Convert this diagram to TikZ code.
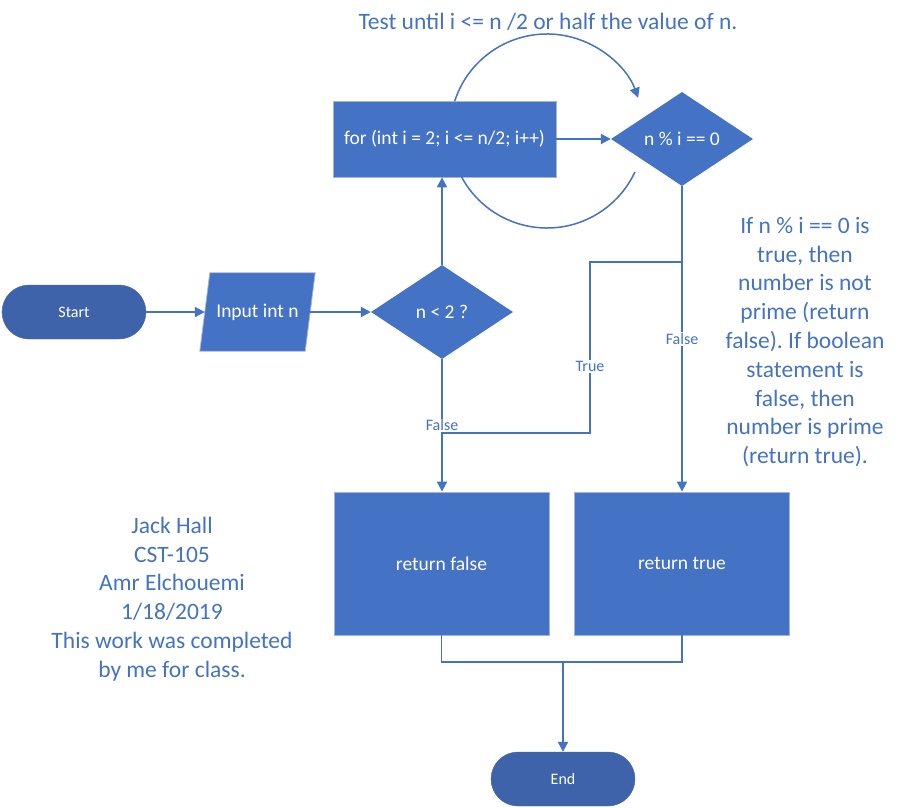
\documentclass[tikz,border=0pt]{standalone}
\usepackage{fontspec}
\setmainfont{Carlito}
\usepackage{tikz}
\usetikzlibrary{shapes.geometric, arrows.meta, positioning, calc}
\definecolor{fcblue}{HTML}{4472C4}
\definecolor{fcdark}{HTML}{3E63AB}
\definecolor{fcedge}{HTML}{A3B4D9}
\frenchspacing

\begin{document}
\begin{tikzpicture}[x=1pt, y=-1pt,
    process/.style={rectangle, draw=fcedge, line width=0.8pt, fill=fcblue, text=white, inner sep=0pt, font=\fontsize{19.5}{23}\selectfont},
    decision/.style={diamond, aspect=1.51, fill=fcblue, text=white, inner sep=0pt, minimum width=142pt, minimum height=94pt, font=\fontsize{19.5}{23}\selectfont},
    terminal/.style={rectangle, rounded corners=27pt, draw=fcdark, fill=fcdark, text=white, minimum width=144pt, minimum height=54pt, font=\fontsize{16}{19}\selectfont},
    io/.style={rectangle, text=white, inner sep=0pt, minimum width=105pt, minimum height=78pt, font=\fontsize{19.5}{23}\selectfont},
    arrow/.style={-{Triangle[length=10pt, width=10pt]}, line width=2pt, color=fcblue},
    line/.style={line width=1.8pt, color=fcblue},
    looparc/.style={line width=1.5pt, color=fcblue},
    cond/.style={fill=white, text=fcblue, inner sep=1pt, font=\fontsize{16}{19}\selectfont},
    note/.style={text=fcblue, align=center, font=\fontsize{23.5}{28.8}\selectfont}
]
\useasboundingbox (0,0) rectangle (905,808);

% Flow nodes
\node[terminal] (start) at (74,312) {Start};
\node[io] (inp) at (257.5,312) {};
\draw[fcedge, line width=0.8pt, fill=fcblue] ($(inp.south west)+(-5,0)$) -- ($(inp.south east)+(-5,0)$) -- ($(inp.north east)+(5,0)$) -- ($(inp.north west)+(5,0)$) -- cycle;
\node[io] at (inp) {Input int n};
\node[decision] (chk) at (442,312) {n < 2 ?};
\node[process, minimum width=223pt, minimum height=76pt] (forl) at (444.5,139) {for (int i = 2; i <= n/2; i++)};
\node[decision] (modt) at (682,139) {n \% i == 0};
\node[process, minimum width=215pt, minimum height=143pt] (retf) at (441.5,563.5) {return false};
\node[process, minimum width=215pt, minimum height=143pt] (rett) at (682,563.5) {return true};
\node[terminal] (fin) at (563,779) {End};

% Loop circle
\coordinate (loopc) at (547,131);
\draw[looparc, -{Triangle[length=10pt, width=10pt]}] ([shift={(198:97)}]loopc) arc[start angle=198, end angle=340, radius=97];
\draw[looparc] ([shift={(152:97)}]loopc) arc[start angle=152, end angle=25, radius=97];

% Arrows
\draw[arrow] (start) -- (inp);
\draw[arrow] (inp) -- (chk);
\draw[arrow] (chk.north) -- (chk.north |- forl.south);
\draw[arrow] (forl) -- (modt);
\draw[arrow] (chk.south) -- node[cond]{False} (chk.south |- retf.north);
\draw[arrow] (modt.south) -- node[cond]{False} (modt.south |- rett.north);

% True branch joins the false path
\coordinate (tsplit) at (682,262);
\coordinate (tturn) at (590,262);
\coordinate (tjoin) at (442,433);
\draw[line] (tsplit) -- (tturn) -- node[cond, pos=0.61]{True} (tturn |- tjoin) -- (tjoin);

% Merge to end
\coordinate (merge) at (563,662);
\draw[line] (retf.south) |- (rett.south |- merge) -- (rett.south);
\draw[arrow] (merge) -- (fin);

% Notes
\node[note] (ntop) at (548,22) {Test until i <= n /2 or half the value of n.};
\node[note] (nright) at (805,342) {If n \% i == 0 is\\true, then\\number is not\\prime (return\\false). If boolean\\statement is\\false, then\\number is prime\\(return true).};
\node[note] (nleft) at (172,599) {Jack Hall\\CST-105\\Amr Elchouemi\\1/18/2019\\This work was completed\\by me for class.};

\end{tikzpicture}
\end{document}
